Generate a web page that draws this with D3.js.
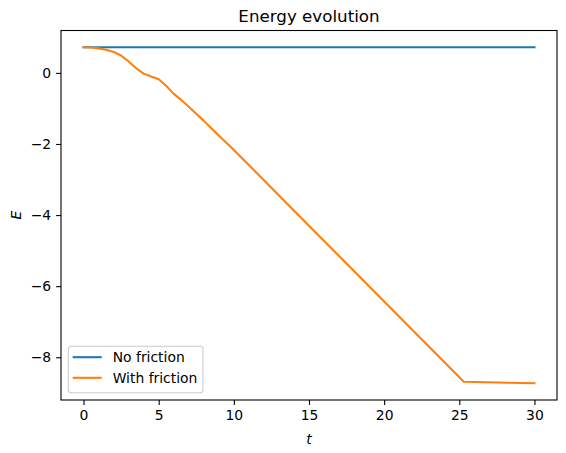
<!DOCTYPE html>
<html>
<head>
<meta charset="utf-8">
<script src="https://cdn.jsdelivr.net/npm/d3@7"></script>
<style>
  body { margin: 0; background: #fff; }
  text { font-family: "DejaVu Sans", sans-serif; fill: #000; }
  .tick-text { font-size: 13.9px; }
  .title-text { font-size: 16.7px; }
  .axis-label { font-size: 13.9px; font-style: italic; }
  .legend-text { font-size: 13.9px; }
</style>
</head>
<body>
<div id="chart"></div>
<script>
// Series data
const timeNoFriction = [0, 30];
const energyNoFriction = [0.72, 0.72];

const timeFriction = [0, 0.5, 1, 1.5, 2, 2.5, 3, 3.5, 4, 4.5, 5, 5.5, 6, 6.5, 7, 7.5, 8, 8.5, 10, 15, 20, 25.3, 30];
const energyFriction = [0.72, 0.715, 0.69, 0.65, 0.59, 0.49, 0.32, 0.13, -0.02, -0.1, -0.18, -0.36, -0.59, -0.76, -0.95, -1.15, -1.35, -1.56, -2.17, -4.3, -6.43, -8.69, -8.73];

const xTicks = [0, 5, 10, 15, 20, 25, 30];
const yTicks = [-8, -6, -4, -2, 0];

const seriesNames = ["No friction", "With friction"];
const seriesColors = ["#1f77b4", "#ff7f0e"];

const margin = { top: 30.5, left: 61 };
const width = 496;
const height = 369.5;

const svg = d3.select("#chart")
  .append("svg")
  .attr("width", 566)
  .attr("height", 453);

const g = svg.append("g")
  .attr("transform", `translate(${margin.left},${margin.top})`);

const series = [
  { name: seriesNames[0], color: seriesColors[0], values: timeNoFriction.map((t, i) => ({ t, e: energyNoFriction[i] })) },
  { name: seriesNames[1], color: seriesColors[1], values: timeFriction.map((t, i) => ({ t, e: energyFriction[i] })) }
];

// matplotlib-style 5% margins
const allT = timeNoFriction.concat(timeFriction);
const allE = energyNoFriction.concat(energyFriction);
const [tMin, tMax] = d3.extent(allT);
const [eMin, eMax] = d3.extent(allE);
const tPad = (tMax - tMin) * 0.05;
const ePad = (eMax - eMin) * 0.05;

const x = d3.scaleLinear().domain([tMin - tPad, tMax + tPad]).range([0, width]);
const y = d3.scaleLinear().domain([eMin - ePad, eMax + ePad]).range([height, 0]);

// Lines
const line = d3.line()
  .x(d => x(d.t))
  .y(d => y(d.e));

series.forEach(s => {
  g.append("path")
    .datum(s.values)
    .attr("fill", "none")
    .attr("stroke", s.color)
    .attr("stroke-width", 2.08)
    .attr("stroke-linejoin", "round")
    .attr("stroke-linecap", "square")
    .attr("d", line);
});

// Axes
const xAxis = g.append("g")
  .attr("transform", `translate(0,${height})`)
  .call(d3.axisBottom(x).tickValues(xTicks).tickSize(4.9).tickPadding(4.9).tickSizeOuter(0));

const yAxis = g.append("g")
  .call(d3.axisLeft(y).tickValues(yTicks).tickSize(4.9).tickPadding(4.9).tickSizeOuter(0));

[xAxis, yAxis].forEach(a => {
  a.select(".domain").remove();
  a.selectAll(".tick line").attr("stroke", "#000").attr("stroke-width", 1.1);
  a.selectAll(".tick text")
    .attr("class", "tick-text")
    .attr("font-family", null)
    .attr("font-size", null);
});
xAxis.selectAll(".tick text").attr("dy", "0.76em");

// Spines
g.append("rect")
  .attr("x", 0)
  .attr("y", 0)
  .attr("width", width)
  .attr("height", height)
  .attr("fill", "none")
  .attr("stroke", "#000")
  .attr("stroke-width", 1.1);

// Labels
g.append("text")
  .attr("class", "title-text")
  .attr("x", width / 2)
  .attr("y", -8.5)
  .attr("text-anchor", "middle")
  .text("Energy evolution");

g.append("text")
  .attr("class", "axis-label")
  .attr("x", width / 2)
  .attr("y", height + 44)
  .attr("text-anchor", "middle")
  .text("t");

g.append("text")
  .attr("class", "axis-label")
  .attr("transform", "rotate(-90)")
  .attr("x", -y(-4))
  .attr("y", -40)
  .attr("text-anchor", "middle")
  .text("E");

// Legend
const legendBox = { x: 7.3, y: height - 53.8, w: 134.7, h: 46.6 };
const legend = g.append("g")
  .attr("transform", `translate(${legendBox.x},${legendBox.y})`);

legend.append("rect")
  .attr("width", legendBox.w)
  .attr("height", legendBox.h)
  .attr("rx", 3)
  .attr("fill", "#fff")
  .attr("fill-opacity", 0.8)
  .attr("stroke", "#cccccc")
  .attr("stroke-width", 1.1);

series.forEach((s, i) => {
  const row = legend.append("g")
    .attr("transform", `translate(0,${11 + i * 20.6})`);
  row.append("line")
    .attr("x1", 4.4)
    .attr("x2", 33.4)
    .attr("stroke", s.color)
    .attr("stroke-width", 2.08);
  row.append("text")
    .attr("class", "legend-text")
    .attr("x", 44.4)
    .attr("y", 5)
    .text(s.name);
});
</script>
</body>
</html>
